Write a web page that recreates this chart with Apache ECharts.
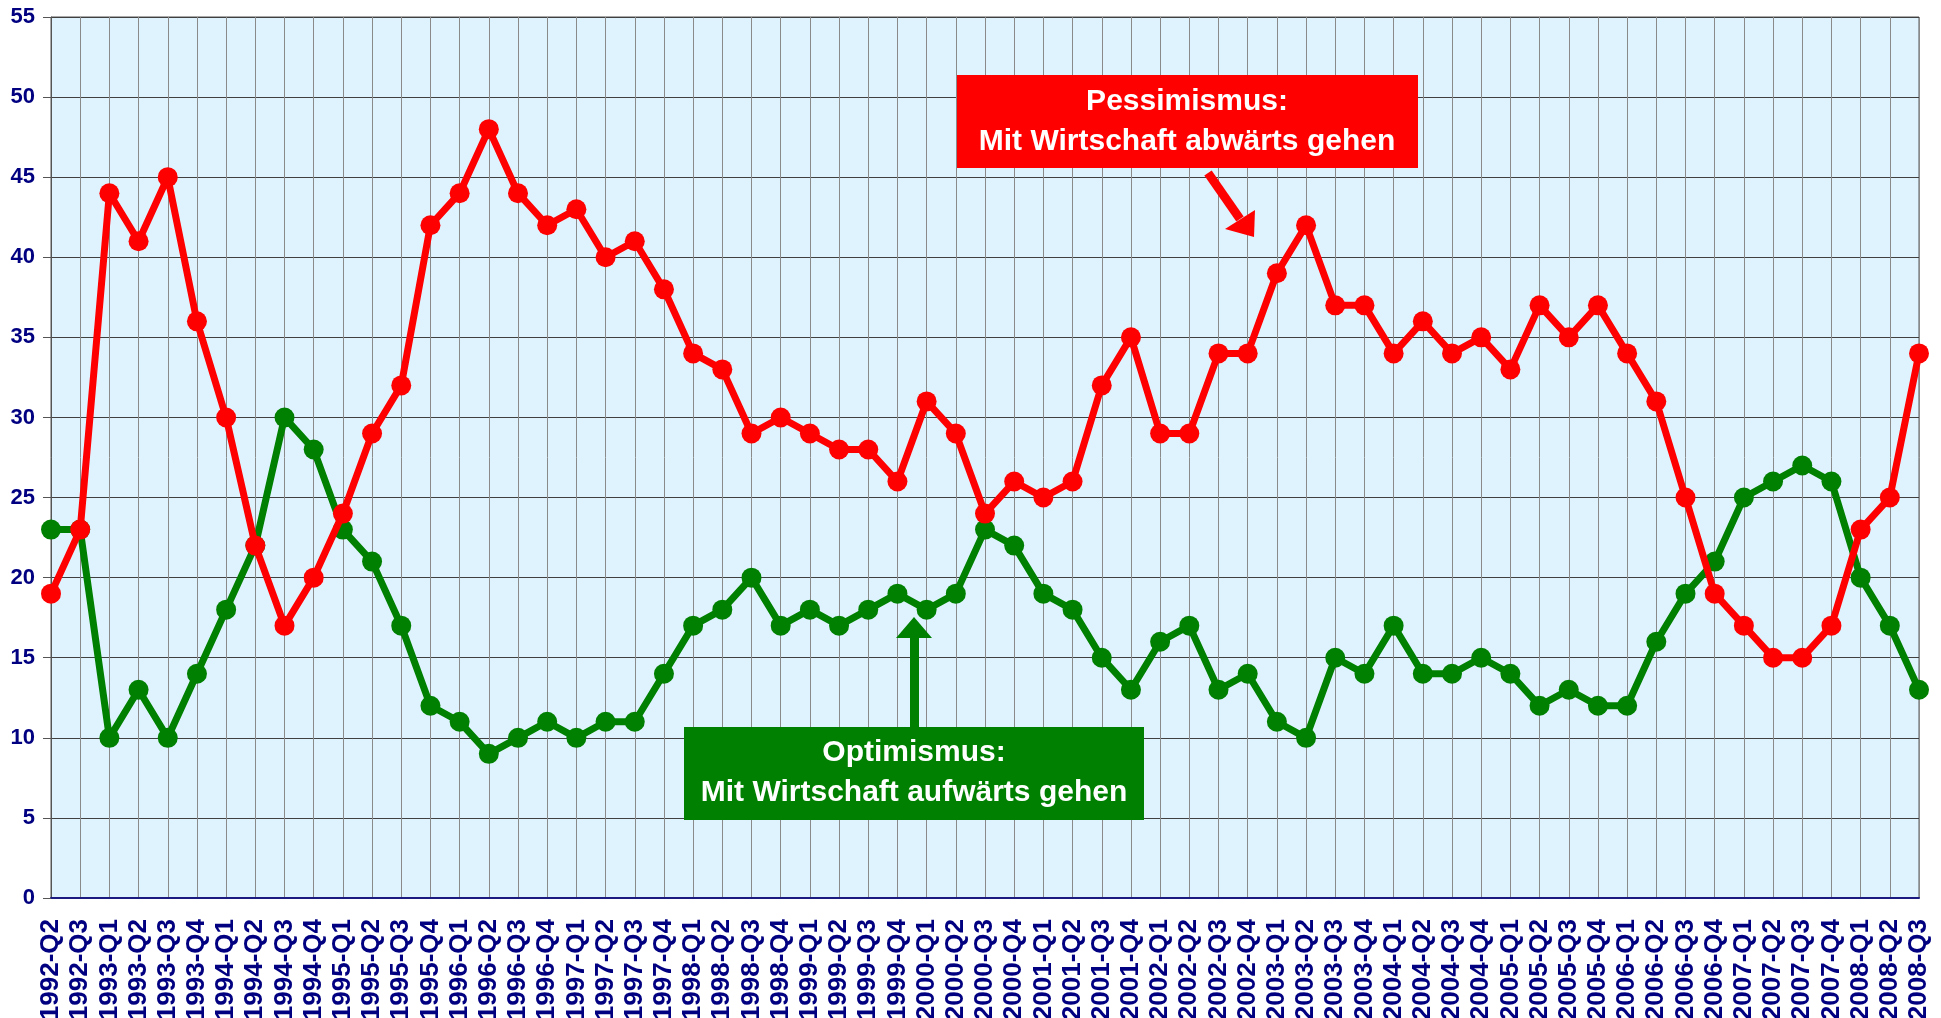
<!DOCTYPE html>
<html>
<head>
<meta charset="utf-8">
<script src="https://cdn.jsdelivr.net/npm/echarts@6/dist/echarts.min.js"></script>
<style>
html,body{margin:0;padding:0;background:#fff;}
#chart{width:1941px;height:1018px;}
</style>
</head>
<body>
<div id="chart"></div>
<script>
const categories = [
 '1992-Q2','1992-Q3',
 '1993-Q1','1993-Q2','1993-Q3','1993-Q4',
 '1994-Q1','1994-Q2','1994-Q3','1994-Q4',
 '1995-Q1','1995-Q2','1995-Q3','1995-Q4',
 '1996-Q1','1996-Q2','1996-Q3','1996-Q4',
 '1997-Q1','1997-Q2','1997-Q3','1997-Q4',
 '1998-Q1','1998-Q2','1998-Q3','1998-Q4',
 '1999-Q1','1999-Q2','1999-Q3','1999-Q4',
 '2000-Q1','2000-Q2','2000-Q3','2000-Q4',
 '2001-Q1','2001-Q2','2001-Q3','2001-Q4',
 '2002-Q1','2002-Q2','2002-Q3','2002-Q4',
 '2003-Q1','2003-Q2','2003-Q3','2003-Q4',
 '2004-Q1','2004-Q2','2004-Q3','2004-Q4',
 '2005-Q1','2005-Q2','2005-Q3','2005-Q4',
 '2006-Q1','2006-Q2','2006-Q3','2006-Q4',
 '2007-Q1','2007-Q2','2007-Q3','2007-Q4',
 '2008-Q1','2008-Q2','2008-Q3'
];
const pessimismus = [19,23,44,41,45,36,30,22,17,20,24,29,32,42,44,48,44,42,43,40,41,38,34,33,29,30,29,28,28,26,31,29,24,26,25,26,32,35,29,29,34,34,39,42,37,37,34,36,34,35,33,37,35,37,34,31,25,19,17,15,15,17,23,25,34];
const optimismus = [23,23,10,13,10,14,18,22,30,28,23,21,17,12,11,9,10,11,10,11,11,14,17,18,20,17,18,17,18,19,18,19,23,22,19,18,15,13,16,17,13,14,11,10,15,14,17,14,14,15,14,12,13,12,12,16,19,21,25,26,27,26,20,17,13];
const yTicks = {min:0, max:55, interval:5};
const labelPess = 'Pessimismus:\nMit Wirtschaft abwärts gehen';
const labelOpt = 'Optimismus:\nMit Wirtschaft aufwärts gehen';

const chart = echarts.init(document.getElementById('chart'));
const RED = '#FF0000', GREEN = '#008000', NAVY = '#000080';
const FONT = 'Liberation Sans, Arial, sans-serif';

chart.setOption({
  animation:false,
  grid:{left:51,right:22,top:17,bottom:120,containLabel:false,outerBoundsMode:'none',show:true,backgroundColor:'#DFF3FF',borderColor:'#555',borderWidth:1},
  xAxis:{
    type:'category', data:categories, boundaryGap:false,
    axisLine:{show:true,lineStyle:{color:'#1a1a80',width:2}},
    axisTick:{show:false},
    axisLabel:{rotate:90,interval:0,margin:21,color:NAVY,fontWeight:'bold',fontSize:26,fontFamily:FONT},
    splitLine:{show:true,interval:0,lineStyle:{color:'#8a8a8a',width:1}}
  },
  yAxis:{
    type:'value', min:yTicks.min, max:yTicks.max, interval:yTicks.interval,
    axisLine:{show:true,lineStyle:{color:'#555',width:1}},
    axisTick:{show:true,length:8,lineStyle:{color:'#555'}},
    axisLabel:{margin:16,color:NAVY,fontWeight:'bold',fontSize:22,fontFamily:FONT},
    splitLine:{show:true,lineStyle:{color:'#404040',width:1}}
  },
  series:[
    {name:'Optimismus',type:'line',data:optimismus,symbol:'circle',symbolSize:20,
     lineStyle:{color:GREEN,width:7},itemStyle:{color:GREEN},z:2},
    {name:'Pessimismus',type:'line',data:pessimismus,symbol:'circle',symbolSize:20,
     lineStyle:{color:RED,width:7},itemStyle:{color:RED},z:3}
  ],
  graphic:[
    {type:'rect',shape:{x:957,y:75,width:461,height:93},style:{fill:RED},z:100},
    {type:'text',x:1187,y:122,style:{text:labelPess,fill:'#fff',font:'bold 30px '+FONT,align:'center',verticalAlign:'middle',lineHeight:40},z:101},
    {type:'line',shape:{x1:1208,y1:173,x2:1240,y2:219},style:{stroke:RED,lineWidth:9},z:100},
    {type:'polygon',shape:{points:[[1254,237],[1225,229],[1255,210]]},style:{fill:RED},z:100},
    {type:'rect',shape:{x:684,y:727,width:460,height:93},style:{fill:GREEN},z:100},
    {type:'text',x:914,y:773,style:{text:labelOpt,fill:'#fff',font:'bold 30px '+FONT,align:'center',verticalAlign:'middle',lineHeight:40},z:101},
    {type:'rect',shape:{x:910,y:636,width:9,height:91},style:{fill:GREEN},z:100},
    {type:'polygon',shape:{points:[[914,617],[896,638],[932,638]]},style:{fill:GREEN},z:100}
  ]
});
</script>
</body>
</html>
